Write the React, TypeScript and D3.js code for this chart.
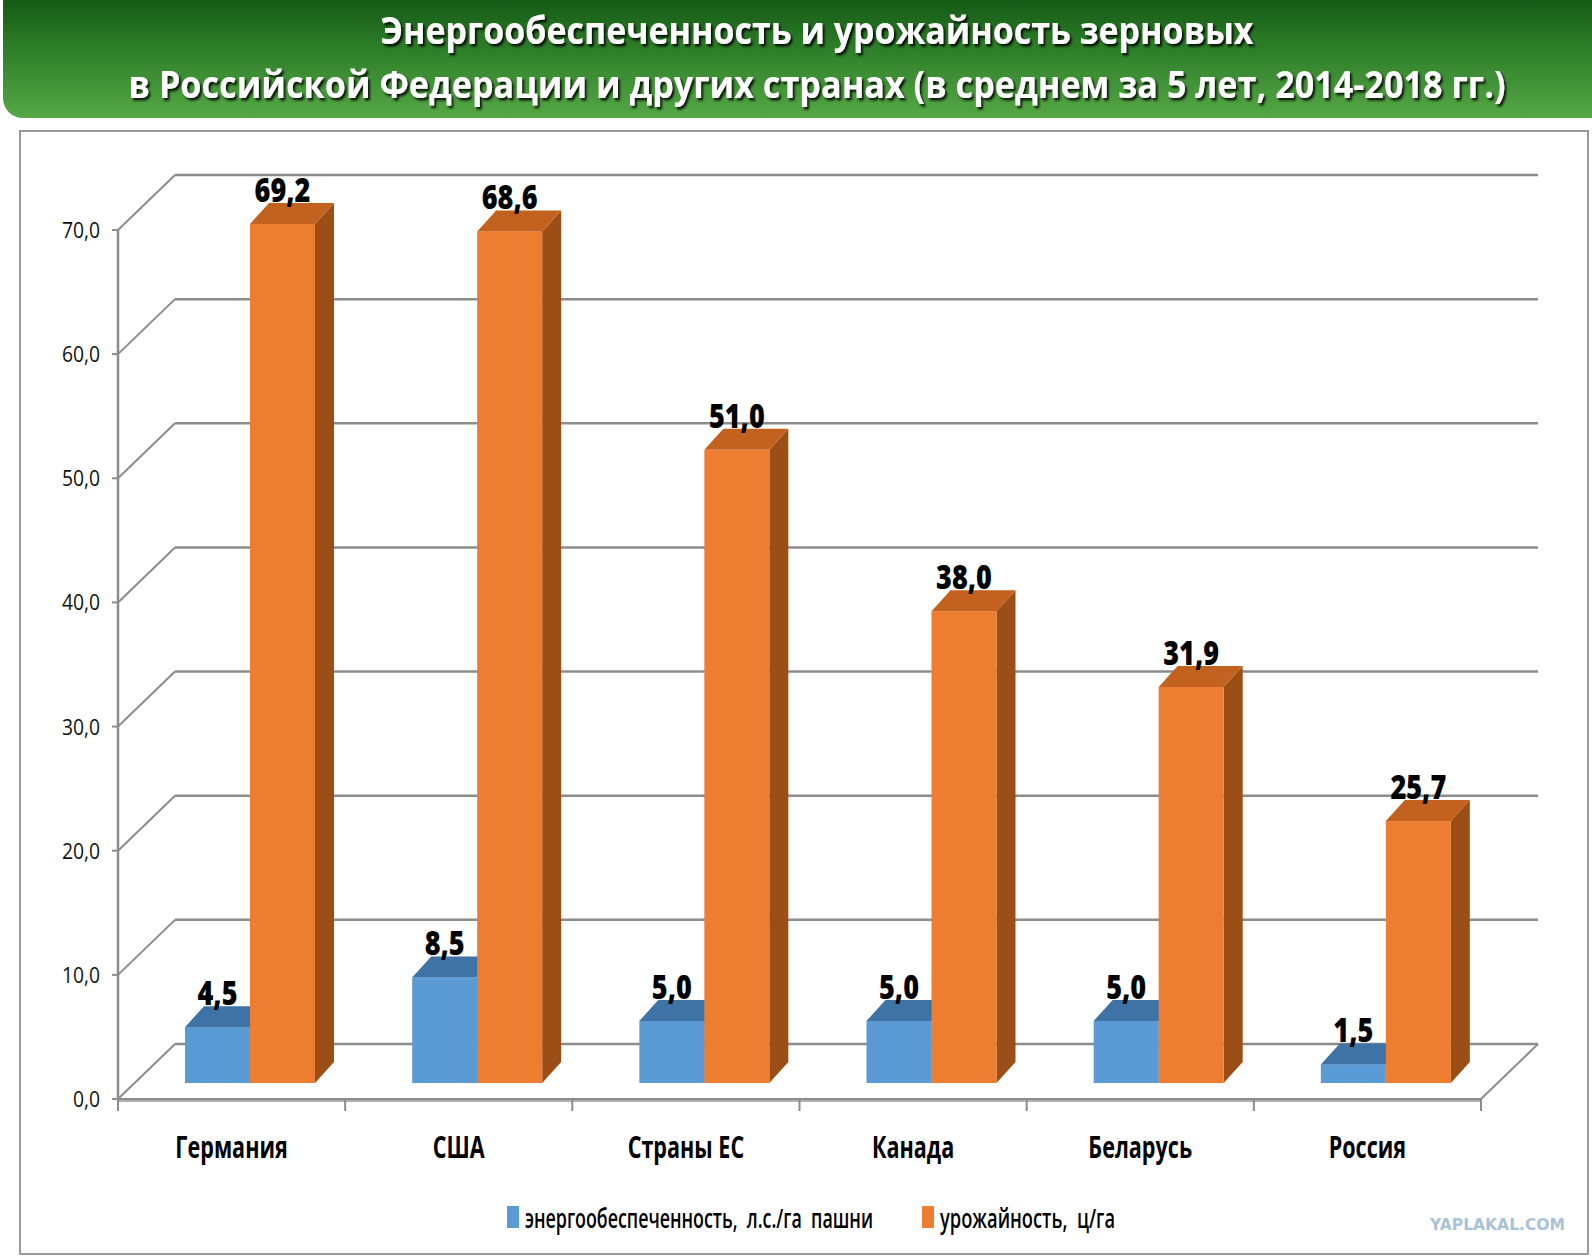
import React from 'react';
import * as d3 from 'd3';

const categories = ['Германия', 'США', 'Страны ЕС', 'Канада', 'Беларусь', 'Россия'];
const energySeries = [4.5, 8.5, 5.0, 5.0, 5.0, 1.5];
const yieldLabels = [69.2, 68.6, 51.0, 38.0, 31.9, 25.7];
// bar heights as they are actually drawn in the reference picture
const yieldDrawn = [69.2, 68.6, 51.0, 38.0, 31.9, 21.1];
const yTicks = [0, 10, 20, 30, 40, 50, 60, 70];
const seriesNames = ['энергообеспеченность,  л.с./га  пашни', 'урожайность,  ц/га'];
const titleLines = [
  'Энергообеспеченность и урожайность зерновых',
  'в Российской Федерации и других странах (в среднем за 5 лет, 2014-2018 гг.)',
];

const W = 1592;
const H = 1256;
const FONT = '"Open Sans", "Noto Sans", "DejaVu Sans", sans-serif';

const fmt = (v: number) => d3.format('.1f')(v).replace('.', ',');

export default function App() {
  // front (axis) plane
  const x0 = 118, x1 = 1481;
  const floorFront = 1099;
  const yAxis = d3.scaleLinear().domain([0, 70]).range([floorFront, 230]);
  // back wall offset
  const wdx = 57, wdy = -55;
  // bars sit a bit deeper than the front plane
  const barBase = 1083;
  const yBar = d3.scaleLinear().domain([0, 70]).range([barBase, barBase - (floorFront - 230)]);
  const bdx = 19, bdy = -21;

  const xCat = d3.scaleBand<string>().domain(categories).range([x0, x1]).paddingInner(0).paddingOuter(0);
  const xSer = d3.scaleBand<string>().domain(['e', 'y']).range([67, 197]);

  const colors = {
    e: { front: '#5B9BD5', top: '#3F73A6', side: '#2F5F8E' },
    y: { front: '#ED7D31', top: '#C3621F', side: '#9C4E17' },
  };

  const grid = '#8c8c8c';

  const bar = (x: number, w: number, v: number, c: { front: string; top: string; side: string }, key: string) => {
    const yt = yBar(v);
    const top = `M${x},${yt}L${x + bdx},${yt + bdy}L${x + w + bdx},${yt + bdy}L${x + w},${yt}Z`;
    const side = `M${x + w},${yt}L${x + w + bdx},${yt + bdy}L${x + w + bdx},${barBase + bdy}L${x + w},${barBase}Z`;
    return (
      <g key={key}>
        <path d={side} fill={c.side} />
        <rect x={x} y={yt} width={w} height={barBase - yt} fill={c.front} />
        <path d={top} fill={c.top} />
      </g>
    );
  };

  return (
    <svg width={W} height={H} viewBox={`0 0 ${W} ${H}`} style={{ position: 'absolute', left: 0, top: 0, display: 'block', background: '#fff' }}>
      <defs>
        <linearGradient id="banner" x1="0" y1="0" x2="0" y2="1">
          <stop offset="0%" stopColor="#0b4a0e" />
          <stop offset="45%" stopColor="#2a7a26" />
          <stop offset="100%" stopColor="#55a845" />
        </linearGradient>
        <filter id="tshadow" x="-5%" y="-20%" width="110%" height="150%">
          <feDropShadow dx="2" dy="2.5" stdDeviation="1" floodColor="#000" floodOpacity="0.85" />
        </filter>
      </defs>

      {/* banner */}
      <rect x={3} y={-20} width={1640} height={138} rx={20} ry={20} fill="url(#banner)" />
      {titleLines.map((t, i) => (
        <text
          key={i}
          x={817}
          y={i === 0 ? 44 : 98}
          textAnchor="middle"
          fontFamily={FONT}
          fontWeight={700}
          fontSize={37}
          fill="#fff"
          filter="url(#tshadow)"
          textLength={i === 0 ? 873 : 1377}
          lengthAdjust="spacingAndGlyphs"
        >
          {t}
        </text>
      ))}

      {/* chart frame */}
      <rect x={20} y={131} width={1568} height={1123} fill="#fff" stroke="#9a9a9a" strokeWidth={2} />

      {/* back wall gridlines + left diagonals */}
      {yTicks.map((t) => {
        const yf = yAxis(t);
        const yb = yf + wdy;
        return (
          <g key={t}>
            <line x1={x0 + wdx} x2={x1 + wdx} y1={yb} y2={yb} stroke={grid} strokeWidth={2.5} />
            <line x1={x0} y1={yf} x2={x0 + wdx} y2={yb} stroke={grid} strokeWidth={2} />
            <line x1={x0 - 6} x2={x0} y1={yf} y2={yf} stroke={grid} strokeWidth={2} />
            <text
              transform={`translate(100,${yf + 8}) scale(0.92,1)`}
              textAnchor="end"
              fontFamily={FONT}
              fontSize={21}
              fill="#111"
            >
              {fmt(t)}
            </text>
          </g>
        );
      })}

      {/* floor */}
      <line x1={x1} y1={floorFront} x2={x1 + wdx} y2={floorFront + wdy} stroke={grid} strokeWidth={2} />
      <line x1={x0} x2={x0} y1={yAxis(70)} y2={floorFront} stroke={grid} strokeWidth={2.5} />
      <line x1={x0} x2={x1} y1={floorFront + 1} y2={floorFront + 1} stroke="#b0b0b0" strokeWidth={4} />
      <line x1={x0} x2={x1} y1={floorFront} y2={floorFront} stroke={grid} strokeWidth={2} />
      {[...categories.map((c) => xCat(c) as number), x1].map((x, i) => (
        <line key={i} x1={x} x2={x} y1={floorFront} y2={floorFront + 12} stroke={grid} strokeWidth={2} />
      ))}

      {/* bars */}
      {categories.map((c, i) => {
        const bx = xCat(c) as number;
        const xe = bx + (xSer('e') as number);
        const xy = bx + (xSer('y') as number);
        const w = xSer.bandwidth();
        return (
          <g key={c}>
            {bar(xe, w, energySeries[i], colors.e, 'e')}
            {bar(xy, w, yieldDrawn[i], colors.y, 'y')}
          </g>
        );
      })}

      {/* value labels */}
      {categories.map((c, i) => {
        const bx = xCat(c) as number;
        const w = xSer.bandwidth();
        const xe = bx + (xSer('e') as number) + w / 2;
        const xy = bx + (xSer('y') as number) + w / 2;
        return (
          <g key={c} fontFamily={FONT} fontWeight={800} fontSize={33} fill="#000">
            <text transform={`translate(${xe},${yBar(energySeries[i]) - 22}) scale(0.82,1)`} textAnchor="middle">
              {fmt(energySeries[i])}
            </text>
            <text transform={`translate(${xy},${yBar(yieldDrawn[i]) - 22}) scale(0.82,1)`} textAnchor="middle">
              {fmt(yieldLabels[i])}
            </text>
          </g>
        );
      })}

      {/* category labels */}
      {categories.map((c) => (
        <text
          key={c}
          transform={`translate(${(xCat(c) as number) + xCat.bandwidth() / 2},1158) scale(0.72,1)`}
          textAnchor="middle"
          fontFamily={FONT}
          fontWeight={700}
          fontSize={30}
          fill="#000"
        >
          {c}
        </text>
      ))}

      {/* legend */}
      <rect x={507} y={1206} width={12} height={22} fill={colors.e.front} />
      <text x={525} y={1228} fontFamily={FONT} fontWeight={600} fontSize={27} fill="#000" style={{ whiteSpace: 'pre' }} textLength={348} lengthAdjust="spacingAndGlyphs">
        {seriesNames[0]}
      </text>
      <rect x={922} y={1206} width={12} height={22} fill={colors.y.front} />
      <text x={940} y={1228} fontFamily={FONT} fontWeight={600} fontSize={27} fill="#000" style={{ whiteSpace: 'pre' }} textLength={175} lengthAdjust="spacingAndGlyphs">
        {seriesNames[1]}
      </text>

      {/* watermark */}
      <text x={1430} y={1230} fontFamily='"DejaVu Sans", sans-serif' fontWeight={700} fontSize={15} fill="#a8c2d8" textLength={135} lengthAdjust="spacingAndGlyphs">
        YAPLAKAL.COM
      </text>
    </svg>
  );
}
